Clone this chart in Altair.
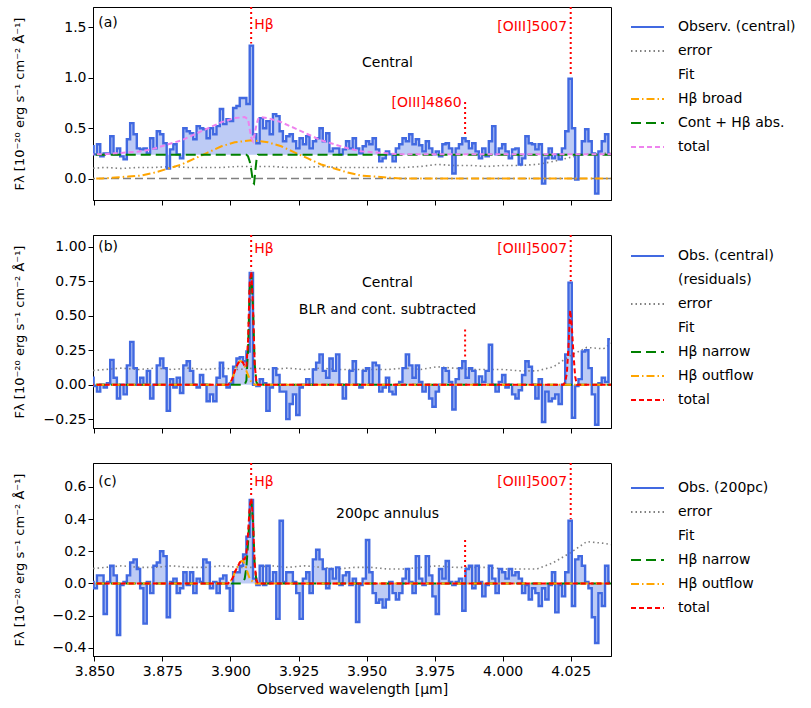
import altair as alt
import numpy as np
import pandas as pd

# Wavelength solution of the extracted spectra: centre of bin i is WL0 + i*DWL (micron)
WL0 = 3.8479
DWL = 0.00122

# Observed flux density per bin [1e-20 erg s-1 cm-2 A-1]
flux_central = [
    0.32, 0.32, 0.24, 0.34, 0.22, 0.25, 0.25, 0.42, 0.24, 0.30,
    0.22, 0.19, 0.39, 0.55, 0.44, 0.30, 0.29, 0.30, 0.25, 0.40,
    0.30, 0.47, 0.44, 0.35, 0.10, 0.29, 0.34, 0.24, 0.20, 0.50,
    0.47, 0.45, 0.39, 0.52, 0.50, 0.49, 0.40, 0.50, 0.44, 0.52,
    0.69, 0.54, 0.59, 0.57, 0.70, 0.72, 0.80, 0.80, 0.74, 1.32,
    0.44, 0.35, 0.60, 0.50, 0.57, 0.44, 0.64, 0.62, 0.47, 0.37,
    0.42, 0.44, 0.37, 0.30, 0.40, 0.34, 0.42, 0.30, 0.37, 0.40,
    0.50, 0.37, 0.45, 0.27, 0.30, 0.30, 0.24, 0.29, 0.37, 0.30,
    0.40, 0.30, 0.25, 0.32, 0.37, 0.34, 0.40, 0.29, 0.17, 0.20,
    0.27, 0.24, 0.17, 0.30, 0.34, 0.40, 0.37, 0.44, 0.34, 0.39,
    0.33, 0.27, 0.37, 0.30, 0.24, 0.27, 0.22, 0.34, 0.35, 0.30,
    0.05, 0.30, 0.34, 0.40, 0.37, 0.30, 0.35, 0.27, 0.20, 0.30,
    0.22, 0.37, 0.52, 0.24, 0.30, 0.34, 0.27, 0.20, 0.29, 0.30,
    0.14, 0.20, 0.42, 0.35, 0.34, 0.29, 0.34, -0.05, 0.20, 0.30,
    0.20, 0.24, 0.19, 0.30, 0.47, 0.99, 0.50, -0.01, 0.24, 0.37,
    0.49, 0.37, 0.25, -0.15, 0.27, 0.37, 0.44, 0.24,
]
flux_resid = [
    0.10, 0.05, -0.01, -0.05, 0.00, -0.02, 0.01, 0.18, 0.05, -0.10,
    0.00, -0.07, 0.14, 0.31, 0.12, 0.00, 0.05, 0.00, 0.10, -0.10,
    0.00, 0.14, 0.19, 0.12, -0.19, 0.04, -0.02, 0.05, -0.06, 0.14,
    0.17, 0.10, 0.00, -0.02, 0.07, 0.00, -0.12, -0.07, -0.12, 0.05,
    0.16, 0.06, -0.02, 0.01, 0.13, 0.19, 0.20, 0.17, 0.24, 0.81,
    0.00, -0.01, 0.04, 0.01, -0.19, -0.02, 0.12, 0.07, -0.05, -0.05,
    -0.25, -0.14, -0.07, -0.22, -0.02, 0.00, 0.04, 0.00, 0.11, 0.16,
    0.22, 0.10, 0.05, 0.19, 0.10, 0.22, 0.00, -0.10, 0.00, 0.10,
    0.17, 0.00, -0.02, 0.10, 0.12, 0.00, 0.16, 0.14, -0.05, -0.02,
    0.05, -0.05, -0.07, 0.00, 0.02, 0.12, 0.22, 0.14, 0.05, 0.14,
    0.02, -0.05, 0.00, -0.10, -0.16, -0.05, 0.00, 0.12, 0.10, 0.02,
    -0.18, 0.04, 0.12, 0.17, 0.05, 0.12, 0.10, 0.00, 0.06, 0.02,
    0.10, 0.29, 0.00, -0.05, 0.02, 0.07, -0.02, 0.00, -0.07, -0.10,
    -0.04, 0.07, 0.17, 0.13, 0.00, -0.10, 0.04, -0.27, -0.05, -0.12,
    -0.10, -0.07, -0.14, 0.00, 0.22, 0.74, -0.24, -0.01, 0.04, 0.24,
    0.25, 0.12, -0.07, -0.29, 0.01, 0.05, 0.02, 0.33,
]
flux_annulus = [
    0.05, 0.01, -0.03, 0.05, 0.05, -0.19, 0.01, 0.11, 0.05, -0.32,
    -0.01, 0.01, 0.05, 0.13, 0.15, 0.09, -0.03, -0.25, 0.01, -0.06,
    0.11, 0.13, 0.20, 0.17, -0.21, 0.01, 0.03, -0.06, -0.03, 0.07,
    -0.01, 0.07, -0.06, 0.03, 0.01, 0.15, 0.13, -0.03, 0.01, -0.06,
    0.03, 0.05, -0.03, -0.17, 0.07, 0.07, 0.11, 0.18, 0.29, 0.52,
    0.03, -0.01, 0.11, -0.01, 0.11, 0.01, 0.07, -0.22, 0.39, 0.01,
    0.07, 0.07, 0.01, -0.06, -0.22, 0.03, 0.07, -0.06, 0.15, 0.21,
    0.15, 0.09, -0.03, 0.09, 0.03, 0.10, -0.01, 0.05, 0.07, -0.01,
    0.03, -0.24, -0.01, 0.03, 0.27, 0.07, -0.06, -0.12, -0.10, -0.15,
    -0.10, 0.01, -0.06, -0.10, -0.06, 0.03, 0.09, 0.01, -0.06, 0.17,
    0.03, -0.01, 0.17, 0.05, -0.08, -0.19, 0.09, 0.03, 0.14, 0.01,
    -0.01, 0.01, 0.03, -0.17, 0.09, 0.11, -0.03, 0.11, 0.01, -0.08,
    -0.01, 0.11, 0.03, -0.06, 0.09, 0.07, 0.03, 0.09, 0.05, 0.07,
    0.03, -0.06, -0.01, -0.10, -0.03, -0.06, -0.14, -0.03, -0.10, -0.01,
    0.07, -0.18, -0.01, -0.08, 0.07, 0.39, -0.14, 0.15, 0.17, 0.11,
    0.01, -0.03, -0.21, -0.37, -0.06, -0.14, 0.11, 0.01,
]

# 1-sigma noise, tabulated every 5th bin (plus the last edge)
err_bins = list(range(0, 160, 5)) + [158]
err_central = [0.10, 0.11, 0.10, 0.11, 0.11, 0.12, 0.11, 0.11, 0.11, 0.12, 0.12,
               0.12, 0.11, 0.11, 0.12, 0.11, 0.11, 0.11, 0.11, 0.11, 0.12, 0.14,
               0.13, 0.13, 0.12, 0.13, 0.13, 0.14, 0.17, 0.21, 0.24, 0.25, 0.25]
err_resid = [0.10, 0.11, 0.12, 0.11, 0.12, 0.11, 0.12, 0.11, 0.12, 0.11, 0.12,
             0.11, 0.12, 0.11, 0.12, 0.11, 0.11, 0.11, 0.11, 0.12, 0.11, 0.13,
             0.12, 0.11, 0.11, 0.11, 0.10, 0.10, 0.13, 0.21, 0.27, 0.26, 0.31]
err_annulus = [0.09, 0.10, 0.11, 0.10, 0.10, 0.11, 0.10, 0.10, 0.11, 0.10, 0.10,
               0.11, 0.10, 0.11, 0.10, 0.09, 0.10, 0.10, 0.09, 0.09, 0.10, 0.11,
               0.10, 0.10, 0.10, 0.09, 0.09, 0.09, 0.13, 0.19, 0.26, 0.25, 0.24]

# Panel (a) fit: broad H-beta, continuum with H-beta absorption, and their total
broad_wave = [3.845, 3.8479, 3.85278, 3.85766, 3.86254, 3.86742, 3.8723, 3.87718,
              3.88206, 3.88694, 3.89182, 3.8967, 3.90158, 3.90768, 3.91378, 3.91866,
              3.92354, 3.92842, 3.9333, 3.93818, 3.94306, 3.94794, 3.95282, 3.9577,
              3.96258, 4.045]
broad_hb = [0, 0, 0, 0.01, 0.02, 0.03, 0.06, 0.10, 0.14, 0.20, 0.26, 0.32, 0.36,
            0.38, 0.36, 0.32, 0.26, 0.20, 0.14, 0.10, 0.06, 0.03, 0.02, 0.01, 0, 0]
cont_wave = [3.845, 3.90585, 3.90646, 3.90707, 3.90768, 3.90829, 3.90866, 3.90914,
             3.90963, 3.91012, 4.045]
cont_abs = [0.237, 0.237, 0.22, 0.17, 0.08, -0.04, -0.05, 0.08, 0.20, 0.237, 0.237]
total_a_wave = [3.845, 3.8479, 3.85278, 3.85766, 3.86254, 3.86742, 3.8723, 3.87718,
                3.88206, 3.88694, 3.89182, 3.8967, 3.90158, 3.90524, 3.90646, 3.90707,
                3.90768, 3.90829, 3.9089, 3.90951, 3.91012, 3.91134, 3.91378, 3.91866,
                3.92354, 3.92842, 3.9333, 3.93818, 3.94306, 3.94794, 3.95282, 3.9577,
                3.96258, 4.045]
total_a = [0.24, 0.24, 0.24, 0.25, 0.26, 0.27, 0.30, 0.34, 0.38, 0.44, 0.50, 0.56, 0.60,
           0.61, 0.59, 0.49, 0.40, 0.37, 0.44, 0.53, 0.59, 0.61, 0.60, 0.56, 0.50, 0.44,
           0.38, 0.34, 0.30, 0.27, 0.26, 0.25, 0.24, 0.24]
cont_level = 0.237

# Panels (b), (c) fit: narrow and outflow H-beta components
hb_wave = [3.845, 3.89914, 3.89975, 3.90036, 3.90097, 3.90158, 3.90219, 3.9028,
           3.90341, 3.90402, 3.90463, 3.90524, 3.90585, 3.90646, 3.90707, 3.90768,
           3.90829, 3.9089, 3.90951, 3.91012, 4.045]
outflow_b = [0, 0, 0.01, 0.03, 0.06, 0.10, 0.13, 0.155, 0.17, 0.17, 0.16, 0.13, 0.10,
             0.07, 0.04, 0.02, 0.01, 0.0, 0, 0, 0]
narrow_b = [0, 0, 0, 0, 0, 0, 0, 0, 0, 0, 0, 0, 0.03, 0.25, 0.70, 0.80, 0.55, 0.15,
            0.02, 0, 0]
total_b_wave = hb_wave[:-1] + [4.02236, 4.02297, 4.02358, 4.02419, 4.0248, 4.02541,
                               4.02602, 4.02663, 4.02724, 4.045]
total_b = [0, 0, 0.01, 0.03, 0.06, 0.10, 0.13, 0.155, 0.17, 0.17, 0.16, 0.13, 0.13,
           0.32, 0.74, 0.82, 0.56, 0.15, 0.02, 0,
           0, 0.02, 0.08, 0.28, 0.54, 0.42, 0.22, 0.06, 0, 0]
outflow_c = [0, 0, 0.01, 0.02, 0.04, 0.07, 0.09, 0.11, 0.13, 0.14, 0.14, 0.12, 0.09,
             0.06, 0.03, 0.02, 0.01, 0.0, 0, 0, 0]
narrow_c = [0, 0, 0, 0, 0, 0, 0, 0, 0, 0, 0.01, 0.03, 0.10, 0.25, 0.45, 0.51, 0.38,
            0.12, 0.02, 0, 0]
total_c = [0, 0, 0.01, 0.02, 0.04, 0.07, 0.09, 0.11, 0.13, 0.14, 0.15, 0.15, 0.19,
           0.31, 0.48, 0.53, 0.39, 0.12, 0.02, 0, 0]

# Emission-line markers (observed wavelength, micron)
line_hb, line_o4860, line_o5007 = 3.9076, 3.9862, 4.0250

X_DOMAIN = [3.8495, 4.0398]
X_TICKS = [3.850, 3.875, 3.900, 3.925, 3.950, 3.975, 4.000, 4.025]
Y_TITLE = "F\u03bb [10\u207b\u00b2\u2070 erg s\u207b\u00b9 cm\u207b\u00b2 \u00c5\u207b\u00b9]"
W, H = 518, 193
BLUE = "#4169e1"


def wave_of(bins):
    return [WL0 + DWL * i for i in bins]


def series_df(name, wave, values):
    return pd.DataFrame({"wl": wave, "f": values, "series": name})


def build_panel(names, colors, dashes, ydom, yticks, yfmt, spec_name, flux,
                base, err, models, y_marks, labels, texts, bottom, legend_y):
    if bottom:
        xaxis = alt.Axis(values=X_TICKS, format=".3f", title="Observed wavelength [\u03bcm]",
                         labelPadding=3, titlePadding=4)
    else:
        xaxis = alt.Axis(values=X_TICKS, labels=False, title=None)
    x = alt.X("wl:Q", scale=alt.Scale(domain=X_DOMAIN, nice=False, zero=False), axis=xaxis)
    y = alt.Y("f:Q", scale=alt.Scale(domain=ydom, nice=False, zero=False),
              axis=alt.Axis(values=yticks, format=yfmt, title=Y_TITLE, titleX=-74,
                            titleY=H / 2, titleAngle=270, titleAlign="center",
                            titleBaseline="middle", titleFontSize=13))
    leg = alt.Legend(title=None, orient="none", legendX=W + 19, legendY=legend_y)
    col = alt.Color("series:N", scale=alt.Scale(domain=names, range=colors), legend=leg)
    dash = alt.StrokeDash("series:N", scale=alt.Scale(domain=names, range=dashes), legend=leg)

    spec = pd.DataFrame({"wl": wave_of(range(len(flux))), "f": flux,
                         "base": base, "series": spec_name})
    layers = [
        alt.Chart(spec).mark_area(interpolate="step", color=BLUE, opacity=0.35, clip=True)
        .encode(x=x, y=y, y2=alt.Y2("base:Q")),
    ]
    layers.append(
        alt.Chart(series_df("error", wave_of(err_bins), err))
        .mark_line(strokeWidth=1.6, clip=True).encode(x=x, y=y, color=col, strokeDash=dash)
    )
    layers.append(
        alt.Chart(spec).mark_line(interpolate="step", strokeWidth=2.4, clip=True)
        .encode(x=x, y=y, color=col, strokeDash=dash)
    )
    for name, wave, vals, extra in models:
        layers.extend(extra)
        layers.append(
            alt.Chart(series_df(name, wave, vals)).mark_line(strokeWidth=2, clip=True)
            .encode(x=x, y=y, color=col, strokeDash=dash)
        )
    # dotted markers of the emission lines
    marks = pd.DataFrame(y_marks, columns=["wl", "f", "f2"])
    layers.append(
        alt.Chart(marks).mark_rule(color="red", strokeDash=[2, 3], strokeWidth=2)
        .encode(x=x, y=y, y2=alt.Y2("f2:Q"))
    )
    lab = pd.DataFrame(labels, columns=["wl", "f", "t", "side"])
    for side in ["left", "right"]:
        layers.append(
            alt.Chart(lab[lab.side == side]).mark_text(align=side, baseline="middle",
                                                       fontSize=14, color="red")
            .encode(x=x, y=y, text="t:N")
        )
    txt = pd.DataFrame(texts, columns=["wl", "f", "t", "side"])
    for side in ["left", "center"]:
        layers.append(
            alt.Chart(txt[txt.side == side]).mark_text(align=side, baseline="middle",
                                                       fontSize=14, color="black")
            .encode(x=x, y=y, text="t:N")
        )
    return alt.layer(*layers).properties(width=W, height=H)


# ---------------- (a) central spectrum with the BLR fit ----------------
names_a = ["Observ. (central)", "error", "Fit", "H\u03b2 broad", "Cont + H\u03b2 abs.", "total"]
colors_a = [BLUE, "gray", "transparent", "orange", "green", "violet"]
dashes_a = [[1, 0], [1.5, 3], [1, 0], [8, 3, 1.5, 3], [10, 5], [5, 3]]
zero_a = alt.Chart(pd.DataFrame({"f": [0.0]})).mark_rule(
    color="gray", strokeDash=[8, 4], strokeWidth=1.6).encode(
    y=alt.Y("f:Q", scale=alt.Scale(domain=[-0.213, 1.703], nice=False, zero=False)))
panel_a = build_panel(
    names_a, colors_a, dashes_a, [-0.213, 1.703], [0.0, 0.5, 1.0, 1.5], ".1f",
    "Observ. (central)", flux_central, cont_level, err_central,
    [("H\u03b2 broad", broad_wave, broad_hb, [zero_a]),
     ("Cont + H\u03b2 abs.", cont_wave, cont_abs, []),
     ("total", total_a_wave, total_a, [])],
    [(line_hb, 1.703, 1.34), (line_o5007, 1.703, 1.02), (line_o4860, 0.76, 0.42)],
    [(3.9087, 1.52, "H\u03b2", "left"), (4.0237, 1.50, "[OIII]5007", "right")],
    [(3.8514, 1.54, "(a)", "left"), (3.9577, 1.15, "Central", "center")],
    False, 10,
)

# ---------------- (b) central residuals after BLR/continuum subtraction ----------------
names_b = ["Obs. (central)", "(residuals)", "error", "Fit", "H\u03b2 narrow",
           "H\u03b2 outflow", "total"]
colors_b = [BLUE, "transparent", "gray", "transparent", "green", "orange", "red"]
dashes_b = [[1, 0], [1, 0], [1.5, 3], [1, 0], [10, 5], [8, 3, 1.5, 3], [5, 3]]
panel_b = build_panel(
    names_b, colors_b, dashes_b, [-0.314, 1.085],
    [-0.25, 0.0, 0.25, 0.5, 0.75, 1.0], ".2f",
    "Obs. (central)", flux_resid, 0.0, err_resid,
    [("H\u03b2 narrow", hb_wave, narrow_b, []),
     ("H\u03b2 outflow", hb_wave, outflow_b, []),
     ("total", total_b_wave, total_b, [])],
    [(line_hb, 1.085, 0.83), (line_o5007, 1.085, 0.75), (line_o4860, 0.40, 0.19)],
    [(3.9087, 0.98, "H\u03b2", "left"), (4.0237, 0.98, "[OIII]5007", "right")],
    [(3.8514, 1.0, "(b)", "left"), (3.9577, 0.74, "Central", "center"),
     (3.9577, 0.54, "BLR and cont. subtracted", "center")],
    False, 11,
)

# ---------------- (c) 200 pc annulus ----------------
names_c = ["Obs. (200pc)", "error", "Fit", "H\u03b2 narrow", "H\u03b2 outflow", "total"]
colors_c = [BLUE, "gray", "transparent", "green", "orange", "red"]
dashes_c = [[1, 0], [1.5, 3], [1, 0], [10, 5], [8, 3, 1.5, 3], [5, 3]]
panel_c = build_panel(
    names_c, colors_c, dashes_c, [-0.451, 0.749],
    [-0.4, -0.2, 0.0, 0.2, 0.4, 0.6], ".1f",
    "Obs. (200pc)", flux_annulus, 0.0, err_annulus,
    [("H\u03b2 narrow", hb_wave, narrow_c, []),
     ("H\u03b2 outflow", hb_wave, outflow_c, []),
     ("total", hb_wave, total_c, [])],
    [(line_hb, 0.749, 0.54), (line_o5007, 0.749, 0.40), (line_o4860, 0.27, 0.03)],
    [(3.9087, 0.63, "H\u03b2", "left"), (4.0237, 0.63, "[OIII]5007", "right")],
    [(3.8514, 0.63, "(c)", "left"), (3.9577, 0.43, "200pc annulus", "center")],
    True, 15,
)

# the [OIII]4860 tag only appears in the top panel
tag_4860 = alt.Chart(pd.DataFrame({"wl": [3.9849], "f": [0.75], "t": ["[OIII]4860"]})).mark_text(
    align="right", baseline="middle", fontSize=14, color="red").encode(
    x=alt.X("wl:Q", scale=alt.Scale(domain=X_DOMAIN, nice=False, zero=False)),
    y=alt.Y("f:Q", scale=alt.Scale(domain=[-0.213, 1.703], nice=False, zero=False)),
    text="t:N")
panel_a = alt.layer(panel_a, tag_4860)

chart = (
    alt.vconcat(panel_a, panel_b, panel_c, spacing=27)
    .resolve_scale(color="independent", strokeDash="independent", y="independent")
    .resolve_legend(color="independent", strokeDash="independent")
    .properties(padding={"left": 12, "top": 5, "right": 0, "bottom": 0}, background="white")
    .configure(font="DejaVu Sans")
    .configure_view(stroke="black", strokeWidth=1)
    .configure_axis(grid=False, domainColor="black", tickColor="black", labelColor="black",
                    titleColor="black", labelFontSize=14, titleFontSize=14,
                    titleFontWeight="normal", tickSize=5, labelFont="DejaVu Sans",
                    titleFont="DejaVu Sans")
    .configure_legend(symbolType="stroke", symbolSize=1089, symbolStrokeWidth=2,
                      labelFontSize=14, labelFont="DejaVu Sans", labelColor="black",
                      labelOffset=13, padding=0, rowPadding=4, clipHeight=20)
)

chart.save("out.html", embed_options={"renderer": "svg", "actions": False})
